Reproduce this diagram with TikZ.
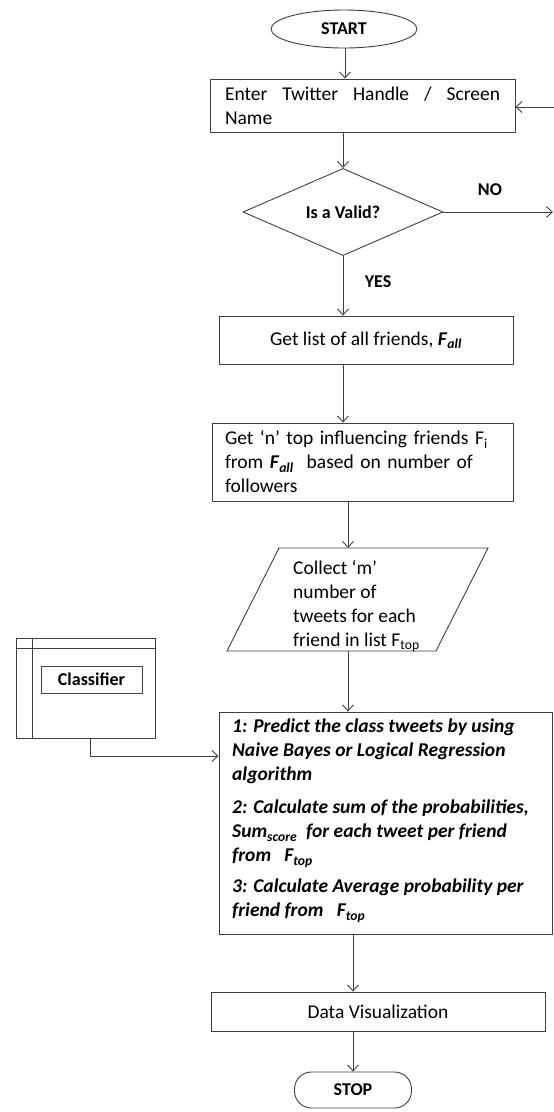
\documentclass[tikz,border=0pt]{standalone}
\usepackage{fontspec}
\setmainfont{Carlito}
\usetikzlibrary{arrows.meta,shapes.geometric}
\begin{document}
\begin{tikzpicture}[x=1pt,y=-1pt,
  line/.style={draw=black!75, line width=0.9pt},
  arr/.style={line, -{Straight Barb[length=6pt,width=11pt,line width=0.9pt]}},
  box/.style={line, rectangle, inner sep=0pt},
  txt/.style={font=\fontsize{19.5}{24}\selectfont},
  lbl/.style={font=\fontsize{18}{22}\selectfont\bfseries},
  bi/.style={font=\fontsize{19.5}{24}\selectfont\bfseries\itshape},
]
\useasboundingbox[fill=white] (0,0) rectangle (554,1112);

% START
\node[line, ellipse, minimum width=146, minimum height=38, inner sep=0pt, lbl] (start) at (344,29) {START};

% Box 1
\node[box, txt, minimum width=305, minimum height=53, text width=275, inner xsep=15pt, align=justify] (b1) at (362.5,105.5) {Enter Twitter Handle / Screen Name};
\coordinate (r1) at (554,107);
\draw[arr] (r1) -- (r1 -| b1.east);
\draw[arr] (start.south -| 345,0) -- (b1.north -| 345,0);

% Decision
\node[line, diamond, minimum width=200, minimum height=87, inner sep=0pt, lbl] (dia) at (343,212) {Is a Valid?};
\draw[arr] (dia.north |- b1.south) -- (dia.north);
\node[lbl] (no) at (490,190) {NO};
\coordinate (noend) at (553,212);
\draw[arr] (dia.east) -- (noend);
\node[lbl] (yes) at (378,282) {YES};

% Box 2
\node[box, txt, minimum width=294, minimum height=48] (b2) at (366,340) {Get list of all friends, \textbf{\textit{F}\textsubscript{\textit{all}}}};
\draw[arr] (dia.south) -- (dia.south |- b2.north);

% Box 3
\node[box, txt, minimum width=301, minimum height=78, text width=275, inner xsep=13pt, align=left] (b3) at (362.5,462) {Get ‘n’ top influencing friends F\textsubscript{i}\\from \textbf{\textit{F}\textsubscript{\textit{all}}}\ \ based on number of\\followers};
\draw[arr] (dia.south |- b2.south) -- (dia.south |- b3.north);

% Parallelogram (input)
\draw[line] (279,548) -- (488,548) -- (436,651) -- (227,651) -- cycle;
\coordinate (ptop) at (348,548);
\coordinate (pbot) at (348,651);
\node[txt, anchor=west, align=left, inner sep=0pt] (pt) at (293,606) {Collect ‘m’\\number of\\tweets for each\\friend in list F\textsubscript{top}};
\draw[arr] (ptop |- b3.south) -- (ptop);

% Box 4
\node[box, minimum width=333, minimum height=222] (b4) at (385.5,823) {};
\node[bi, anchor=north west, align=left, inner sep=0pt] (t4) at (232,719) {1: Predict the class tweets by using\\Naive Bayes or Logical Regression\\algorithm\\[9pt]2: Calculate sum of the probabilities,\\Sum\textsubscript{score}\ \ for each tweet per friend\\from \ \ F\textsubscript{top}\\[7pt]3: Calculate Average probability per\\friend from \ \ F\textsubscript{top}};
\draw[arr] (pbot) -- (pbot |- b4.north);

% Classifier
\node[box, minimum width=139, minimum height=100] (cls) at (85.5,688) {};
\draw[line] ([yshift=-11pt]cls.north west) -- ([yshift=-11pt]cls.north east);
\draw[line] ([xshift=17pt]cls.north west) -- ([xshift=17pt]cls.south west);
\node[box, lbl, minimum width=101, minimum height=27] (clsin) at (91.5,679.5) {Classifier};
\draw[arr] ([xshift=4.5pt]cls.south) |- (b4.west |- 0,756);

% STOP
\node[line, rectangle, rounded corners=17pt, minimum width=117, minimum height=36, lbl] (stop) at (353,1090) {STOP};

% Box 5
\node[box, txt, minimum width=334, minimum height=39] (b5) at (378,1011.5) {Data Visualization};
\draw[arr] (stop |- b4.south) -- (stop |- b5.north);
\draw[arr] (stop |- b5.south) -- (stop.north);
\end{tikzpicture}
\end{document}
